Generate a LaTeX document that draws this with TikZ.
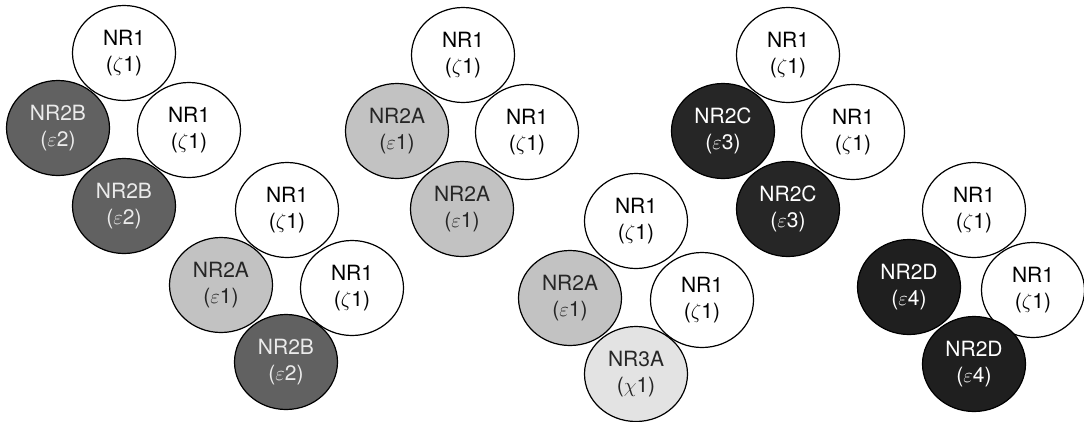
\documentclass[tikz,border=0pt]{standalone}
\usepackage{fontspec}
\setmainfont{TeX Gyre Heros}
\usetikzlibrary{shapes.geometric}
\tikzset{
  sub/.style={ellipse, draw=black, line width=1.2pt, minimum width=103pt, minimum height=95pt,
    inner sep=0pt, align=center, font=\fontsize{21}{27}\selectfont},
  nrone/.style={sub, fill=white, text=black},
  nrtwoa/.style={sub, fill=black!24, text=black!85},
  nrtwob/.style={sub, fill=black!62, text=black!8},
  nrtwoc/.style={sub, fill=black!85, text=white},
  nrtwod/.style={sub, fill=black!88, text=white},
  nrthreea/.style={sub, fill=black!11, text=black!85},
}
\newcommand{\lab}[2]{#1\\[-1pt](#2)}
\begin{document}
\begin{tikzpicture}[x=1pt,y=-1pt]
\useasboundingbox (0,0) rectangle (1084,421);
% cluster 1
\node[nrone]  (c1t) at (124,53)  {\lab{NR1}{$\zeta$1}};
\node[nrtwob] (c1l) at (58,128)  {\lab{NR2B}{$\varepsilon$2}};
\node[nrone]  (c1r) at (189,130) {\lab{NR1}{$\zeta$1}};
\node[nrtwob] (c1b) at (124,206) {\lab{NR2B}{$\varepsilon$2}};
% cluster 2
\node[nrone]  (c2t) at (287,210) {\lab{NR1}{$\zeta$1}};
\node[nrtwoa] (c2l) at (221,285) {\lab{NR2A}{$\varepsilon$1}};
\node[nrone]  (c2r) at (352,288) {\lab{NR1}{$\zeta$1}};
\node[nrtwob] (c2b) at (286,362) {\lab{NR2B}{$\varepsilon$2}};
% cluster 3
\node[nrone]  (c3t) at (463,55)  {\lab{NR1}{$\zeta$1}};
\node[nrtwoa] (c3l) at (397,131) {\lab{NR2A}{$\varepsilon$1}};
\node[nrone]  (c3r) at (527,132) {\lab{NR1}{$\zeta$1}};
\node[nrtwoa] (c3b) at (462,209) {\lab{NR2A}{$\varepsilon$1}};
% cluster 4
\node[nrone]    (c4t) at (636,221) {\lab{NR1}{$\zeta$1}};
\node[nrtwoa]   (c4l) at (570,298) {\lab{NR2A}{$\varepsilon$1}};
\node[nrone]    (c4r) at (702,300) {\lab{NR1}{$\zeta$1}};
\node[nrthreea] (c4b) at (636,374) {\lab{NR3A}{$\chi$1}};
% cluster 5
\node[nrone]   (c5t) at (788,55)  {\lab{NR1}{$\zeta$1}};
\node[nrtwoc]  (c5l) at (723,131) {\lab{NR2C}{$\varepsilon$3}};
\node[nrone]   (c5r) at (853,132) {\lab{NR1}{$\zeta$1}};
\node[nrtwoc]  (c5b) at (788,209) {\lab{NR2C}{$\varepsilon$3}};
% cluster 6
\node[nrone]   (c6t) at (974,210) {\lab{NR1}{$\zeta$1}};
\node[nrtwod]  (c6l) at (909,287) {\lab{NR2D}{$\varepsilon$4}};
\node[nrone]   (c6r) at (1033,290) {\lab{NR1}{$\zeta$1}};
\node[nrtwod]  (c6b) at (974,364) {\lab{NR2D}{$\varepsilon$4}};
\end{tikzpicture}
\end{document}
